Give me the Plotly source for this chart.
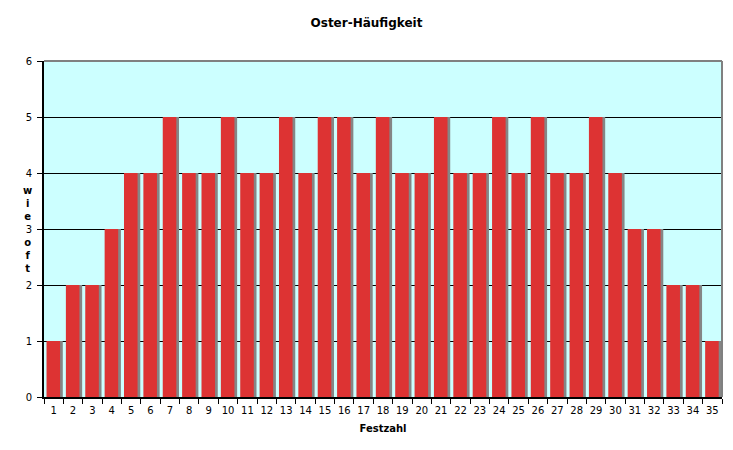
import plotly.graph_objects as go

categories = [str(i) for i in range(1, 36)]
values = [1, 2, 2, 3, 4, 4, 5, 4, 4, 5, 4, 4, 5, 4, 5, 5, 4, 5, 4, 4,
          5, 4, 4, 5, 4, 5, 4, 4, 5, 4, 3, 3, 2, 2, 1]
y_ticks = [0, 1, 2, 3, 4, 5, 6]

font_family = "DejaVu Sans, Verdana, sans-serif"

fig = go.Figure()
# shadow
fig.add_trace(go.Bar(x=categories, y=values, marker=dict(color="#858585", line=dict(width=0)),
                     width=0.69, offset=-0.22, hoverinfo="skip", showlegend=False))
# main bars
fig.add_trace(go.Bar(x=categories, y=values, marker=dict(color="#DD3333", line=dict(width=0)),
                     width=0.70, offset=-0.37, showlegend=False))

fig.update_layout(
    width=733, height=450,
    barmode="overlay",
    paper_bgcolor="white",
    plot_bgcolor="#CCFFFF",
    margin=dict(l=44, r=11, t=61, b=53, autoexpand=False),
    font=dict(family=font_family, size=10, color="black"),
    title=dict(text="<b>Oster-Häufigkeit</b>", x=0.5, xanchor="center", y=1 - 23/450, yanchor="middle",
               font=dict(size=12, family=font_family, color="black")),
    xaxis=dict(type="category", tickson="boundaries", ticks="outside", ticklen=5, tickcolor="black",
               showline=True, linecolor="black", linewidth=2, showgrid=False, tickangle=0,
               automargin=False, ticklabelstandoff=3,
               title=dict(text="<b>Festzahl</b>", standoff=10, font=dict(size=10)),
               tickfont=dict(size=10)),
    yaxis=dict(range=[0, 6], tickvals=y_ticks, ticks="outside", ticklen=5, tickcolor="black",
               showline=True, linecolor="black", linewidth=2, showgrid=True, gridcolor="black", gridwidth=1,
               zeroline=False, automargin=False, ticklabelstandoff=3, tickfont=dict(size=10)),
    annotations=[dict(text="<b>w<br>i<br>e<br><br>o<br>f<br>t</b>", x=(21 - 44) / (733 - 55), y=(397 - 229) / 336,
                      xref="paper", yref="paper",
                      showarrow=False, font=dict(size=10, family=font_family), align="center")],
    shapes=[
        dict(type="line", xref="paper", yref="paper", x0=0, x1=1, y0=1, y1=1, line=dict(color="#808080", width=2)),
        dict(type="line", xref="paper", yref="paper", x0=1, x1=1, y0=0, y1=1, line=dict(color="#808080", width=2)),
    ],
)

fig.write_html("out.html", config={"displayModeBar": False},
               post_script="document.body.style.margin='0';document.body.style.overflow='hidden';")
